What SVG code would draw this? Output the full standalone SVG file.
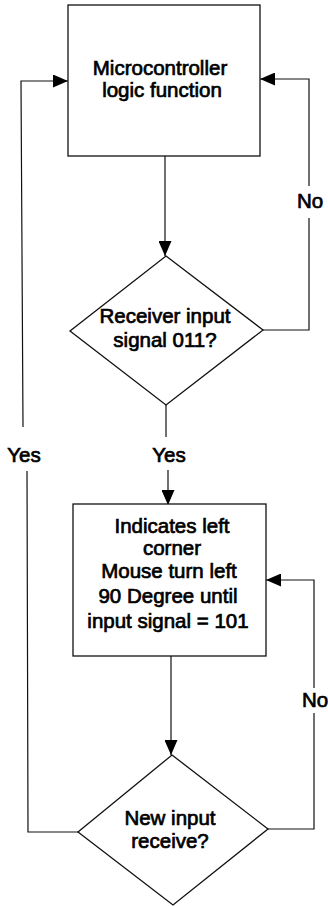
<svg xmlns="http://www.w3.org/2000/svg" width="328" height="906" viewBox="0 0 328 906">
<style>
.shape{fill:#fff;stroke:#111;stroke-width:1.3}
.line{fill:none;stroke:#111;stroke-width:1.2}
.t{font-family:"Liberation Sans",Arial,sans-serif;font-size:20.5px;fill:#000;text-anchor:middle;stroke:#000;stroke-width:0.7}
</style>
<defs>
<marker id="arr" viewBox="0 0 15 13" refX="15" refY="6.5" markerWidth="15" markerHeight="13" markerUnits="userSpaceOnUse" orient="auto">
<path d="M0,0 L15,6.5 L0,13 Z" fill="#000"/>
</marker>
</defs>
<rect width="328" height="906" fill="#fff"/>
<g id="connectors">
<path class="line" d="M165,156 L165,256" marker-end="url(#arr)"/>
<path class="line" d="M263,330 L309,330 L309,218"/>
<path class="line" d="M309,186 L309,79 L260,79" marker-end="url(#arr)"/>
<path class="line" d="M166,405 L166,437"/>
<path class="line" d="M168,470 L168,505" marker-end="url(#arr)"/>
<path class="line" d="M171,656 L171,755" marker-end="url(#arr)"/>
<path class="line" d="M268,829 L314,829 L314,713"/>
<path class="line" d="M314,688 L314,580 L266,580" marker-end="url(#arr)"/>
<path class="line" d="M78,832 L28,832 L27,471"/>
<path class="line" d="M23,427 L21,81 L68,81" marker-end="url(#arr)"/>
</g>
<g id="node-micro">
<rect class="shape" x="68" y="5" width="192" height="151"/>
<text class="t" x="160" y="75">Microcontroller</text>
<text class="t" x="162" y="97">logic function</text>
</g>
<g id="node-dec1">
<polygon class="shape" points="166,256 263,330 166,405 70,331"/>
<text class="t" x="165" y="323">Receiver input</text>
<text class="t" x="165" y="347">signal 011?</text>
</g>
<g id="node-left">
<rect class="shape" x="73" y="504" width="193" height="152"/>
<text class="t" x="172" y="533">Indicates left</text>
<text class="t" x="172" y="555">corner</text>
<text class="t" x="169" y="578">Mouse turn left</text>
<text class="t" x="168" y="603">90 Degree until</text>
<text class="t" x="168" y="628">input signal = 101</text>
</g>
<g id="node-dec2">
<polygon class="shape" points="172,755 268,829 173,905 78,832"/>
<text class="t" x="170" y="825">New input</text>
<text class="t" x="170" y="848">receive?</text>
</g>
<g id="labels">
<text class="t" x="310" y="208">No</text>
<text class="t" x="315" y="707">No</text>
<text class="t" x="24" y="462">Yes</text>
<text class="t" x="169" y="462">Yes</text>
</g>
</svg>
